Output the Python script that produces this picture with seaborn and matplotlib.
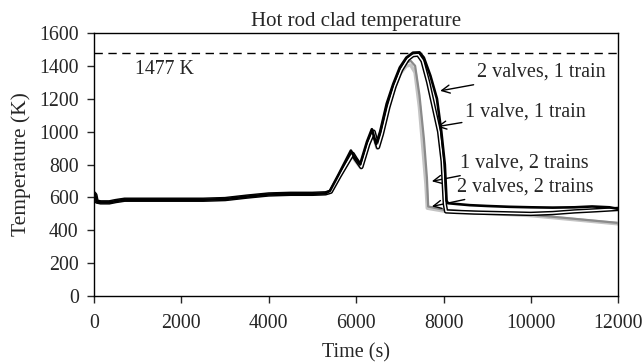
import numpy as np
import pandas as pd
import matplotlib
matplotlib.use("Agg")
import matplotlib.pyplot as plt
import seaborn as sns

# Common steady-state portion shared by every case (time s, temperature K)
base_t = [0, 30, 60, 150, 350, 500, 700, 1500, 2500, 3000, 3500, 4000, 4500, 5000, 5300]
base_T = [625, 615, 575, 570, 570, 578, 586, 586, 586, 590, 605, 618, 622, 622, 625]

# 2 valves, 1 train
a_t = [5400, 5600, 5880, 5950, 6090, 6250, 6360, 6460, 6550, 6700, 6850, 7000, 7150, 7300,
       7450, 7550, 7700, 7850, 7950, 8030, 8070, 8100, 8300, 8600, 9000, 9500, 10000,
       10500, 11000, 11400, 11800, 12000]
a_T = [640, 740, 885, 850, 800, 940, 1015, 925, 1000, 1170, 1290, 1390, 1450, 1480,
       1482, 1450, 1340, 1200, 1000, 800, 580, 565, 560, 553, 548, 543, 540,
       538, 540, 545, 540, 530]

# 1 valve, 1 train
b_t = [5420, 5620, 5920, 5990, 6120, 6280, 6400, 6500, 6590, 6740, 6880, 7030, 7180, 7300,
       7420, 7520, 7650, 7800, 7900, 7980, 8030, 8060, 8300, 8700, 9200, 10000, 10500,
       11000, 11500, 12000]
b_T = [635, 730, 865, 835, 785, 925, 1000, 905, 985, 1150, 1275, 1375, 1440, 1465,
       1468, 1430, 1300, 1120, 1000, 820, 560, 515, 512, 508, 505, 500, 505,
       515, 522, 530]

# 1 valve, 2 trains
c_t = [5400, 5600, 5880, 5950, 6090, 6250, 6360, 6460, 6550, 6700, 6850, 7000, 7150, 7250,
       7350, 7450, 7550, 7620, 7650, 8000, 8500, 9000, 10000, 11000, 12000]
c_T = [638, 735, 875, 840, 790, 930, 1005, 915, 990, 1160, 1280, 1375, 1420, 1430,
       1400, 1220, 960, 720, 545, 525, 515, 508, 495, 470, 445]

# 2 valves, 2 trains
d_t = [5420, 5620, 5900, 5970, 6110, 6270, 6380, 6480, 6570, 6720, 6870, 7000, 7150, 7250,
       7350, 7450, 7530, 7600, 7630, 8000, 8500, 9000, 10000, 11000, 12000]
d_T = [632, 728, 860, 828, 780, 915, 990, 900, 975, 1140, 1260, 1350, 1400, 1405,
       1360, 1150, 900, 680, 535, 518, 510, 503, 490, 465, 440]

limit_T = 1477
labels = ["2 valves, 1 train", "1 valve, 1 train", "1 valve, 2 trains", "2 valves, 2 trains"]

sns.set_theme(style="ticks")
plt.rcParams["font.family"] = ["Liberation Serif", "DejaVu Serif"]
ink = "#262626"
plt.rcParams.update({"text.color": ink, "axes.labelcolor": ink,
                     "xtick.color": ink, "ytick.color": ink,
                     "axes.edgecolor": "black"})

def frame(t, T):
    return pd.DataFrame({"t": base_t + t, "T": base_T + T})

fig = plt.figure(figsize=(6.44, 3.62), dpi=100)
ax = fig.add_axes([0.146, 0.182, 0.814, 0.727])

ax.axhline(limit_T, color="black", lw=1.0, ls=(0, (6, 4)), zorder=1)

sns.lineplot(data=frame(d_t, d_T), x="t", y="T", ax=ax, color="#c4c4c4", lw=2.6,
             estimator=None, sort=False, zorder=2)
sns.lineplot(data=frame(c_t, c_T), x="t", y="T", ax=ax, color="#8a8a8a", lw=1.6,
             estimator=None, sort=False, zorder=3)
# hollow black line: thick black stroke with a thin white core
sns.lineplot(data=frame(b_t, b_T), x="t", y="T", ax=ax, color="black", lw=3.2,
             estimator=None, sort=False, zorder=4)
sns.lineplot(data=frame(b_t, b_T), x="t", y="T", ax=ax, color="white", lw=1.1,
             estimator=None, sort=False, zorder=5)
sns.lineplot(data=frame(a_t, a_T), x="t", y="T", ax=ax, color="black", lw=1.9,
             estimator=None, sort=False, zorder=6)

ax.set_xlim(0, 12000)
ax.set_ylim(0, 1600)
ax.set_xticks(np.arange(0, 12001, 2000))
ax.set_yticks(np.arange(0, 1601, 200))
ax.tick_params(direction="out", length=5, width=1, labelsize=14.3)
ax.tick_params(axis="x", pad=8)
ax.tick_params(axis="y", pad=6)
for s in ax.spines.values():
    s.set_linewidth(1.0)

ax.set_xlabel("Time (s)", fontsize=14.5, labelpad=7)
ax.set_ylabel("Temperature (K)", fontsize=15.5, labelpad=6)
ax.set_title("Hot rod clad temperature", fontsize=15, pad=5)

ax.text(940, 1380, f"{limit_T} K", fontsize=14.3, va="center", ha="left")

arrow = dict(arrowstyle="->", color="black", lw=1.0, shrinkA=0, shrinkB=0)
ann = [(labels[0], (7924, 1248), (8764, 1360)),
       (labels[1], (7848, 1030), (8496, 1120)),
       (labels[2], (7733, 698), (8382, 810)),
       (labels[3], (7733, 545), (8306, 665))]
for txt, head, tail in ann:
    ax.annotate(txt, xy=head, xytext=tail, fontsize=14.5, ha="left", va="center",
                arrowprops=arrow)

fig.savefig("out.png", dpi=100)
